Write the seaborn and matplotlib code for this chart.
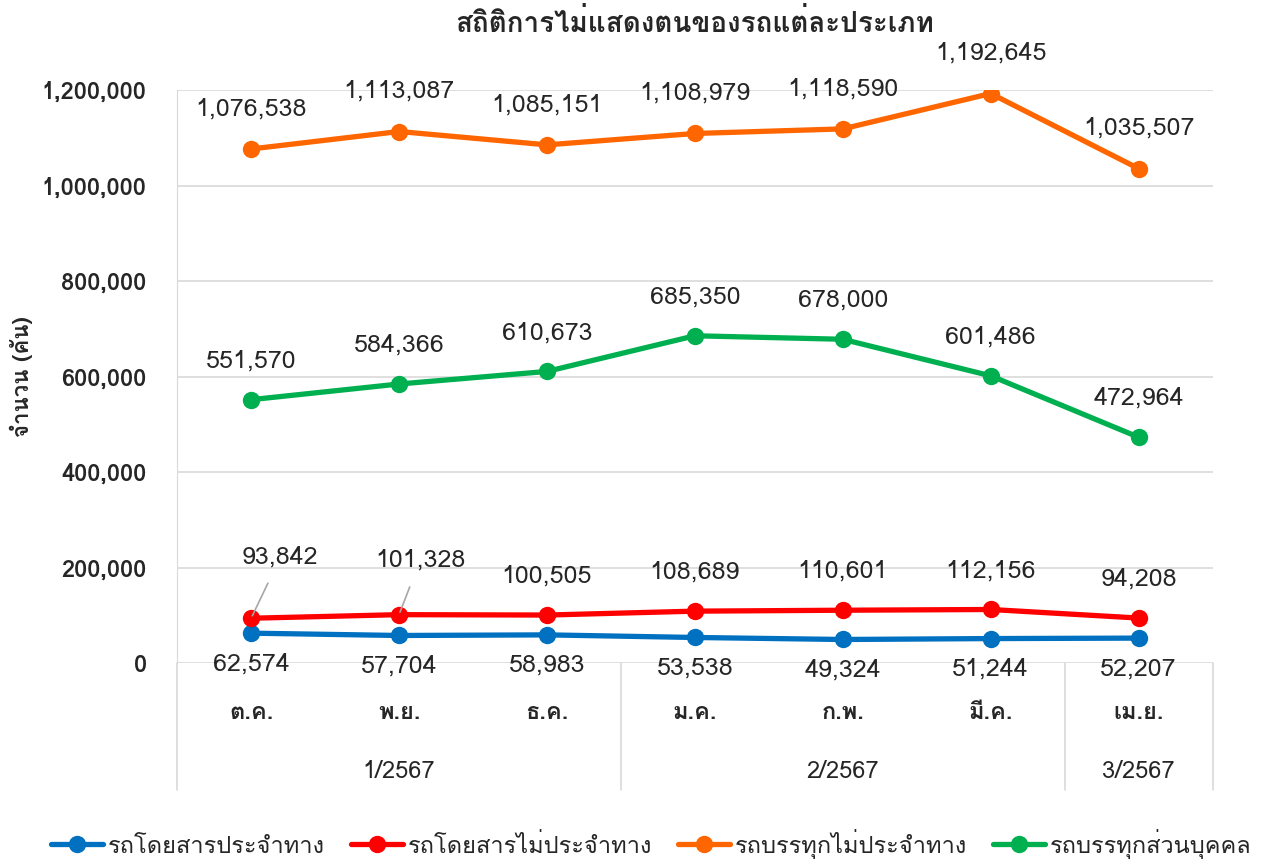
import numpy as np
import pandas as pd
import matplotlib
matplotlib.use("Agg")
import matplotlib.pyplot as plt
import seaborn as sns
from matplotlib import font_manager
from matplotlib.ft2font import FT2Font
from matplotlib.ticker import FuncFormatter

# ข้อมูล
months = ["ต.ค.", "พ.ย.", "ธ.ค.", "ม.ค.", "ก.พ.", "มี.ค.", "เม.ย."]
quarters = ["1/2567", "2/2567", "3/2567"]
quarter_size = [3, 3, 1]
series_names = ["รถโดยสารประจำทาง", "รถโดยสารไม่ประจำทาง", "รถบรรทุกไม่ประจำทาง", "รถบรรทุกส่วนบุคคล"]
bus_fixed = [62574, 57704, 58983, 53538, 49324, 51244, 52207]
bus_nonfixed = [93842, 101328, 100505, 108689, 110601, 112156, 94208]
truck_nonfixed = [1076538, 1113087, 1085151, 1108979, 1118590, 1192645, 1035507]
truck_private = [551570, 584366, 610673, 685350, 678000, 601486, 472964]
colors = ["#0070C0", "#FF0000", "#FF6600", "#00B050"]

# หาฟอนต์ที่มีอักษรไทย
thai_fonts = []
for f in font_manager.fontManager.ttflist:
    if f.name in thai_fonts:
        continue
    try:
        if ord("ก") in FT2Font(f.fname).get_charmap():
            thai_fonts.append(f.name)
    except Exception:
        pass

sns.set_style("white")
plt.rcParams["font.family"] = thai_fonts[:1] + ["DejaVu Sans"]

df = pd.DataFrame({
    "idx": list(range(len(months))) * 4,
    "value": bus_fixed + bus_nonfixed + truck_nonfixed + truck_private,
    "series": np.repeat(series_names, len(months)),
})

fig = plt.figure(figsize=(12.75, 8.63), dpi=100)
ax = fig.add_axes([0.139, 0.2317, 0.812, 0.664])
sns.lineplot(data=df, x="idx", y="value", hue="series", palette=colors,
             marker="o", markersize=12.5, markeredgewidth=0, linewidth=3.8, ax=ax)

ax.set_xlim(-0.5, 6.5)
ax.set_ylim(0, 1200000)
ax.set_yticks(np.arange(0, 1200001, 200000))
ax.yaxis.set_major_formatter(FuncFormatter(lambda v, p: f"{int(v):,}"))
ax.grid(axis="y", color="#d9d9d9", linewidth=1.2)
ax.set_axisbelow(True)
for s in ["top", "right", "bottom"]:
    ax.spines[s].set_visible(False)
ax.spines["left"].set_color("#d9d9d9")
ax.tick_params(axis="y", length=0, labelsize=17, pad=22)
ax.set_xticks([])
ax.set_xlabel("")
ax.set_ylabel("จำนวน (คัน)", fontsize=16, fontweight="bold", labelpad=6)
for lbl in ax.get_yticklabels():
    lbl.set_fontweight("bold")

# ป้ายข้อมูล
fs = 18
for i in range(len(months)):
    ax.annotate(f"{truck_nonfixed[i]:,}", (i, truck_nonfixed[i]), xytext=(0, 29),
                textcoords="offset points", ha="center", va="center", fontsize=fs)
    ax.annotate(f"{truck_private[i]:,}", (i, truck_private[i]), xytext=(0, 28),
                textcoords="offset points", ha="center", va="center", fontsize=fs)
    ax.annotate(f"{bus_fixed[i]:,}", (i, bus_fixed[i]), xytext=(0, -22),
                textcoords="offset points", ha="center", va="center", fontsize=fs)
    if i < 2:
        dx = [21, 15][i]
        dy = [44, 39][i]
        ax.annotate(f"{bus_nonfixed[i]:,}", (i, bus_nonfixed[i]), xytext=(dx, dy),
                    textcoords="offset points", ha="center", va="center", fontsize=fs,
                    arrowprops=dict(arrowstyle="-", color="#a6a6a6", lw=1.2, shrinkA=9, shrinkB=2))
    else:
        ax.annotate(f"{bus_nonfixed[i]:,}", (i, bus_nonfixed[i]), xytext=(0, 28),
                    textcoords="offset points", ha="center", va="center", fontsize=fs)

# แกนหมวดหมู่สองชั้น
trans = ax.get_xaxis_transform()
for i, m in enumerate(months):
    ax.text(i, -0.086, m, transform=trans, ha="center", va="center", fontsize=17, fontweight="bold")
start = 0
bounds = [-0.5]
for q, n in zip(quarters, quarter_size):
    ax.text(start + (n - 1) / 2, -0.19, q, transform=trans, ha="center", va="center", fontsize=17)
    start += n
    bounds.append(start - 0.5)
for b in bounds:
    ax.plot([b, b], [0, -0.222], transform=trans, color="#d9d9d9", lw=1.2, clip_on=False)

ax.set_title("สถิติการไม่แสดงตนของรถแต่ละประเภท", fontsize=20, fontweight="bold", pad=42)

ax.legend(loc="center", bbox_to_anchor=(0.458, -0.315), ncol=4, frameon=False,
          fontsize=17, handlelength=2.2, columnspacing=1.1, handletextpad=0.2)

fig.savefig("out.png", dpi=100)
